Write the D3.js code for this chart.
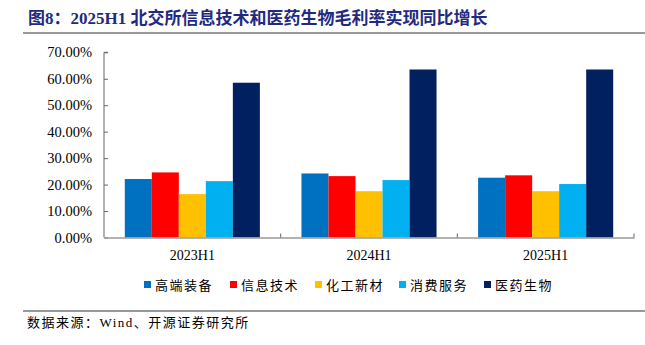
<!DOCTYPE html>
<html><head><meta charset="utf-8">
<script src="https://cdn.jsdelivr.net/npm/d3@7"></script>
<style>body{margin:0;background:#fff}</style>
</head><body>
<svg id="c" width="645" height="345"></svg>
<script>
const categories = ["2023H1", "2024H1", "2025H1"];
const seriesNames = ["高端装备", "信息技术", "化工新材", "消费服务", "医药生物"];
const seriesColors = ["#0070C0", "#FF0000", "#FFC000", "#00B0F0", "#002060"];
const values = {
  "高端装备": [22.1, 24.2, 22.6],
  "信息技术": [24.6, 23.2, 23.5],
  "化工新材": [16.4, 17.5, 17.5],
  "消费服务": [21.3, 21.7, 20.2],
  "医药生物": [58.5, 63.5, 63.5]
};
const yTicks = [0, 10, 20, 30, 40, 50, 60, 70];
const titleText = "图8：2025H1 北交所信息技术和医药生物毛利率实现同比增长";
const sourceText = "数据来源：Wind、开源证券研究所";

(function () {
const svg = d3.select("#c");
const serif = "'Liberation Serif','Times New Roman','Noto Sans CJK SC',serif";
const cjk = "'Liberation Serif','Noto Sans CJK SC',sans-serif";

// title
svg.append("text").attr("x", 28).attr("y", 24).attr("font-family", cjk)
  .attr("font-weight", "bold").attr("font-size", 17).attr("fill", "#1F2A80").text(titleText);
svg.append("line").attr("x1", 23).attr("x2", 645).attr("y1", 33).attr("y2", 33)
  .attr("stroke", "#999").attr("stroke-width", 2);

const pL = 104, pR = 634, pT = 52.3, pB = 237.5;
const x0 = d3.scaleBand().domain(categories).range([pL, pR]).paddingInner(0).paddingOuter(0);
const x1 = d3.scaleBand().domain(seriesNames).range([0, x0.bandwidth()]).paddingOuter(0.77).paddingInner(0);
const y = d3.scaleLinear().domain([0, 70]).range([pB, pT]);

// bars
categories.forEach((c, i) => {
  seriesNames.forEach((s, j) => {
    svg.append("rect").attr("x", x0(c) + x1(s)).attr("y", y(values[s][i]))
      .attr("width", x1.bandwidth()).attr("height", pB - y(values[s][i]))
      .attr("fill", seriesColors[j]);
  });
});

// y axis
const ya = svg.append("g").attr("transform", `translate(${pL},0)`)
  .call(d3.axisRight(y).tickValues(yTicks).tickSize(4).tickFormat(d => d.toFixed(2) + "%"));
ya.select(".domain").attr("stroke", "#666").attr("d", `M4,${pT}H0V${pB}`);
ya.selectAll(".tick line").attr("stroke", "#666");
ya.selectAll(".tick text").attr("x", -12).attr("text-anchor", "end")
  .attr("font-family", serif).attr("font-size", 14.5).attr("fill", "#000");

// x axis
const xa = svg.append("g").attr("transform", `translate(0,${pB})`)
  .call(d3.axisBottom(x0).tickSize(0));
xa.select(".domain").attr("stroke", "#999").attr("stroke-width", 1.5);
xa.selectAll(".tick text").attr("dy", 0).attr("y", 22)
  .attr("font-family", serif).attr("font-size", 14).attr("fill", "#000");
categories.forEach(c => {
  svg.append("line").attr("x1", x0(c) + x0.bandwidth()).attr("x2", x0(c) + x0.bandwidth())
    .attr("y1", pB).attr("y2", pB - 4).attr("stroke", "#666");
});

// legend
const legX = [144, 230, 315, 399, 484];
seriesNames.forEach((s, j) => {
  svg.append("rect").attr("x", legX[j]).attr("y", 281).attr("width", 7).attr("height", 7).attr("fill", seriesColors[j]);
  svg.append("text").attr("x", legX[j] + 11).attr("y", 290).attr("font-family", cjk)
    .attr("font-size", 13).attr("fill", "#000").attr("letter-spacing", 1.5).text(s);
});

// footer
svg.append("line").attr("x1", 23).attr("x2", 645).attr("y1", 311).attr("y2", 311)
  .attr("stroke", "#333").attr("stroke-width", 1);
svg.append("text").attr("x", 27).attr("y", 327).attr("font-family", cjk)
  .attr("font-size", 13).attr("fill", "#000").attr("letter-spacing", 1.5).text(sourceText);
})();
</script>
</body></html>
